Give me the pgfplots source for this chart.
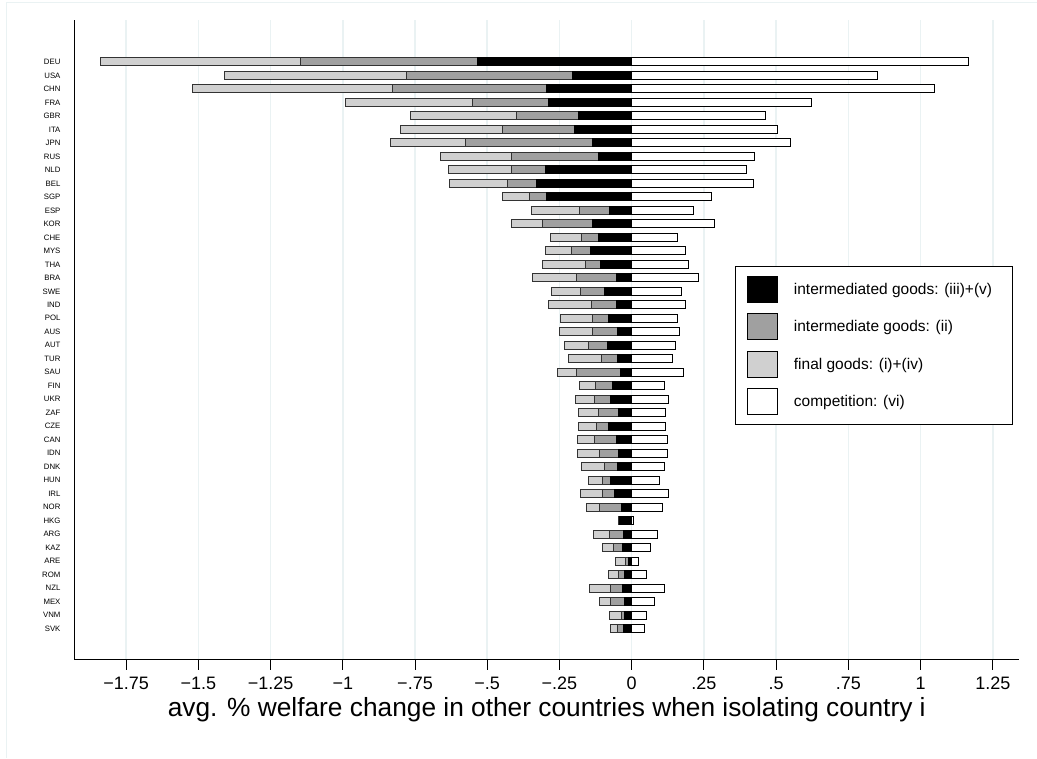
\documentclass[border=0pt]{standalone}
\usepackage{fontspec}
\setmainfont{Liberation Sans}
\usepackage{pgfplots}
\usepackage{pgfplotstable}
\pgfplotsset{compat=1.18}
\definecolor{gridc}{HTML}{EAF2F3}
\definecolor{lgray}{HTML}{D0D0D0}
\definecolor{mgray}{HTML}{A0A0A0}
% y: position (DEU top = 42); l: left end of final goods; g: left end of intermediate goods;
% b: left end of intermediated goods; w: competition (positive)
\pgfplotstableread{
name y l g b w
DEU 42 -1.840 -1.147 -0.533 1.165
USA 41 -1.411 -0.780 -0.205 0.851
CHN 40 -1.521 -0.829 -0.295 1.047
FRA 39 -0.992 -0.550 -0.287 0.624
GBR 38 -0.766 -0.399 -0.183 0.463
ITA 37 -0.799 -0.447 -0.197 0.506
JPN 36 -0.836 -0.575 -0.136 0.550
RUS 35 -0.661 -0.417 -0.115 0.425
NLD 34 -0.635 -0.417 -0.300 0.399
BEL 33 -0.631 -0.430 -0.329 0.421
SGP 32 -0.447 -0.352 -0.295 0.275
ESP 31 -0.347 -0.179 -0.078 0.214
KOR 30 -0.415 -0.308 -0.134 0.286
CHE 29 -0.280 -0.172 -0.115 0.159
MYS 28 -0.300 -0.210 -0.143 0.188
THA 27 -0.310 -0.161 -0.107 0.198
BRA 26 -0.343 -0.192 -0.053 0.232
SWE 25 -0.278 -0.177 -0.095 0.174
IND 24 -0.288 -0.139 -0.053 0.185
POL 23 -0.247 -0.136 -0.079 0.157
AUS 22 -0.250 -0.136 -0.049 0.166
AUT 21 -0.233 -0.148 -0.085 0.152
TUR 20 -0.220 -0.106 -0.049 0.141
SAU 19 -0.258 -0.192 -0.040 0.181
FIN 18 -0.181 -0.124 -0.066 0.114
UKR 17 -0.196 -0.130 -0.075 0.128
ZAF 16 -0.185 -0.114 -0.046 0.118
CZE 15 -0.184 -0.123 -0.081 0.118
CAN 14 -0.188 -0.130 -0.054 0.124
IDN 13 -0.187 -0.111 -0.046 0.124
DNK 12 -0.172 -0.093 -0.049 0.112
HUN 11 -0.151 -0.102 -0.073 0.096
IRL 10 -0.177 -0.101 -0.058 0.126
NOR 9 -0.157 -0.111 -0.036 0.107
HKG 8 -0.046 -0.041 -0.041 0.006
ARG 7 -0.132 -0.078 -0.028 0.091
KAZ 6 -0.102 -0.063 -0.033 0.065
ARE 5 -0.057 -0.022 -0.012 0.023
ROM 4 -0.081 -0.046 -0.025 0.050
NZL 3 -0.146 -0.074 -0.032 0.114
MEX 2 -0.111 -0.073 -0.025 0.079
VNM 1 -0.078 -0.036 -0.026 0.050
SVK 0 -0.073 -0.049 -0.030 0.045
}\data

\begin{document}
\begin{tikzpicture}
\path (0pt,0pt) rectangle (1037pt,758pt);
\draw[color=gridc, line width=1pt] (7pt,0pt) -- (7pt,755pt) -- (1037pt,755pt);
\begin{axis}[
  at={(75pt,98pt)}, anchor=south west,
  scale only axis, width=944pt, height=640pt,
  xmin=-1.927, xmax=1.339, ymin=-2.30, ymax=45.11,
  axis x line*=bottom, axis y line*=left,
  axis line style={-, line width=1pt, black},
  xtick={-1.75,-1.5,-1.25,-1,-0.75,-0.5,-0.25,0,0.25,0.5,0.75,1,1.25},
  xticklabels={−1.75,−1.5,−1.25,−1,−.75,−.5,−.25,0,.25,.5,.75,1,1.25},
  ytick={0,...,42},
  yticklabels={SVK,VNM,MEX,NZL,ROM,ARE,KAZ,ARG,HKG,NOR,IRL,HUN,DNK,IDN,CAN,CZE,ZAF,UKR,FIN,SAU,TUR,AUT,AUS,POL,IND,SWE,BRA,THA,MYS,CHE,KOR,ESP,SGP,BEL,NLD,RUS,JPN,ITA,GBR,FRA,CHN,USA,DEU},
  xmajorgrids, grid style={color=gridc, line width=1.5pt},
  tick align=outside, major tick length=10pt,
  xtick style={black, line width=1pt},
  ytick style={draw=none},
  xticklabel style={font=\fontsize{18}{20}\selectfont, yshift=-4pt},
  yticklabel style={font=\fontsize{7.8}{9}\selectfont, xshift=-1pt},
  xlabel={avg. \% welfare change in other countries when isolating country i},
  xlabel style={font=\fontsize{26.3}{28}\selectfont, yshift=-1pt},
  legend image code/.code={\draw[#1, line width=1pt] (0pt,-13pt) rectangle (30pt,13pt);},
  legend style={at={(0.700,0.6156)}, anchor=north west, draw=black, line width=1pt,
    fill=white, inner xsep=11pt, inner ysep=9.5pt, row sep=10.5pt, column sep=7pt,
    nodes={inner xsep=9pt},
    font=\fontsize{15.5}{18}\selectfont},
  legend cell align=left,
]
\addlegendimage{draw=black, fill=black}
\addlegendentry{intermediated goods: (iii)+(v)}
\addlegendimage{draw=black, fill=mgray}
\addlegendentry{intermediate goods: (ii)}
\addlegendimage{draw=black, fill=lgray}
\addlegendentry{final goods: (i)+(iv)}
\addlegendimage{draw=black, fill=white}
\addlegendentry{competition: (vi)}

\addplot[xbar, bar width=8pt, bar shift=0pt, draw=black!80, line width=1pt, fill=lgray, forget plot] table[x=l, y=y] {\data};
\addplot[xbar, bar width=8pt, bar shift=0pt, draw=black!80, line width=1pt, fill=mgray, forget plot] table[x=g, y=y] {\data};
\addplot[xbar, bar width=8pt, bar shift=0pt, draw=black, line width=1pt, fill=black, forget plot] table[x=b, y=y] {\data};
\addplot[xbar, bar width=8pt, bar shift=0pt, draw=black, line width=1pt, fill=white, forget plot] table[x=w, y=y] {\data};
\end{axis}
\end{tikzpicture}
\end{document}
